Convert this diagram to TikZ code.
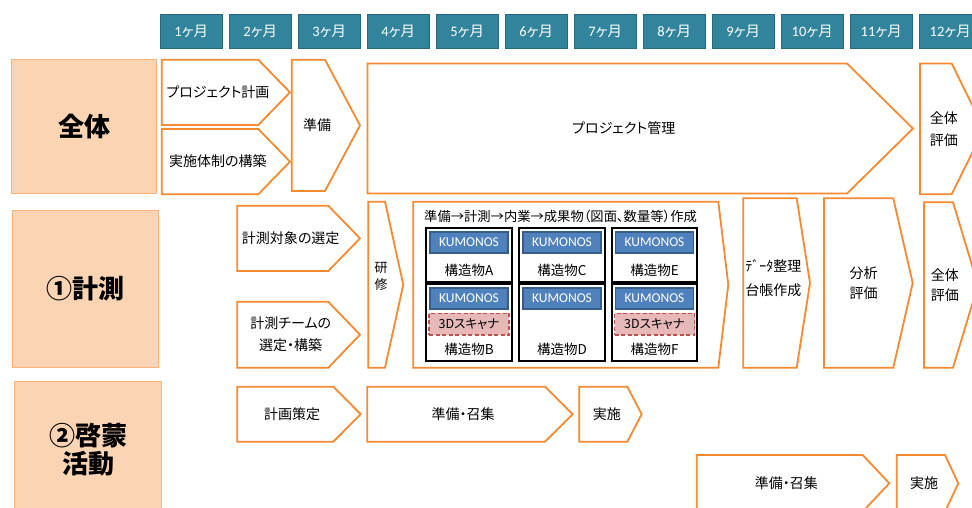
\documentclass[tikz,border=0pt]{standalone}
\usepackage{fontspec}
\setmainfont{Noto Sans CJK JP}[RawFeature=+palt]
\newfontfamily\latin{Carlito}
\usepackage{tikz}

\definecolor{plan}{HTML}{F58A32}
\definecolor{peach}{HTML}{FBD4B4}
\definecolor{peachline}{HTML}{F9B47E}
\definecolor{monthfill}{HTML}{31849B}
\definecolor{monthline}{HTML}{266A7D}
\definecolor{kumofill}{HTML}{4F81BD}
\definecolor{kumoline}{HTML}{385D8A}
\definecolor{scanfill}{HTML}{E6B9B8}
\definecolor{scanline}{HTML}{C0504D}

\tikzset{
  plate/.style={draw=plan, line width=1.8pt, line join=miter, fill=white},
  lbl/.style={font=\fontsize{14}{21}\selectfont, align=center, inner sep=0pt},
  month/.style={fill=monthfill, draw=monthline, line width=0.8pt, text=white,
    minimum width=62.5pt, minimum height=34pt, inner sep=0pt,
    font=\fontsize{14.5}{16}\selectfont},
  cat/.style={fill=peach, draw=peachline, line width=1pt, align=center,
    font=\fontsize{26}{28}\selectfont\bfseries},
  cell/.style={draw=black, line width=1.8pt, fill=white, inner sep=0pt},
  kumo/.style={fill=kumofill, draw=kumoline, line width=1.4pt, text=white,
    minimum width=78pt, minimum height=21pt, inner sep=0pt,
    font=\latin\fontsize{13.5}{15}\selectfont},
  scan/.style={fill=scanfill, draw=scanline, dash pattern=on 4pt off 2.5pt, line width=1.5pt,
    minimum width=80pt, minimum height=21.5pt, inner sep=0pt,
    font=\fontsize{12.5}{14}\selectfont},
  struct/.style={inner sep=0pt, font=\fontsize{13.5}{15}\selectfont}
}

% [node options]{name}{left}{top}{body end}{tip}{bottom}{text}
\newcommand{\homeplate}[8][]{%
  \draw[plate] (#3,#4) -- (#5,#4) -- (#6,{(#4+#7)/2}) -- (#5,#7) -- (#3,#7) -- cycle;
  \node[lbl,#1] (#2) at ({(#3+(#5+#6)/2)/2},{(#4+#7)/2}) {#8};}

\begin{document}
\begin{tikzpicture}[x=1pt,y=-1pt]
\useasboundingbox (0,0) rectangle (972,507);
\fill[white] (0,0) rectangle (972,507);
\clip (0,0) rectangle (972,507);

% months
\foreach \m in {1,...,12}
  \node[month] (month\m) at ({191.25+69*(\m-1)},31) {{\latin\m}ヶ月};

% categories
\node[cat, minimum width=145pt, minimum height=134pt] (whole) at (84.2,126.3) {全体};
\node[cat, minimum width=145.6pt, minimum height=157.7pt] (measure) at (85.5,288.9) {①計測};
\node[cat, minimum width=146.7pt, minimum height=135.3pt] (outreach) at (88.3,449.3) {②啓蒙\\活動};

% row 1
\homeplate{plan}{161.7}{59.7}{258.3}{290}{125}{プロジェクト計画}
\homeplate{system}{161.7}{129}{258.3}{290}{194.3}{実施体制の構築}
\homeplate{prep}{291.7}{59.7}{325}{360}{191}{準備}
\homeplate{manage}{367.5}{63.5}{847}{913}{193.5}{プロジェクト管理}
\homeplate[font=\fontsize{14}{21.6}\selectfont]{evalA}{920}{63.5}{951.7}{984}{194.3}{全体\\評価}

% row 2
\homeplate{target}{237.3}{205.7}{328.3}{360}{271}{計測対象の選定}
\homeplate[font=\fontsize{14}{22}\selectfont]{team}{237.3}{301.7}{328.3}{360}{367.7}{計測チームの\\選定・構築}
\homeplate[yshift=8pt, font=\fontsize{13}{16.7}\selectfont]{training}{368.3}{201.7}{385}{403.3}{367.7}{研\\修}
\draw[plate] (413.3,201.7) -- (718.3,201.7) -- (728.3,284.7) -- (718.3,367.7) -- (413.3,367.7) -- cycle;
\node[lbl, font=\fontsize{13.3}{15}\selectfont, anchor=west] (flow) at (424,216.7)
  {準備→計測→内業→成果物（図面、数量等）作成};
\foreach \cx/\up/\down in {469/A/B, 562/C/D, 654.5/E/F}{
  \node[cell, minimum width=85.5pt, minimum height=54pt] (cell\up) at (\cx,255.3) {};
  \node[cell, minimum width=85.5pt, minimum height=76.7pt] (cell\down) at (\cx,322.7) {};
  \node[kumo] (kumo\up) at (\cx,242.5) {KUMONOS};
  \node[struct] (name\up) at (\cx,270) {構造物\up};
  \node[kumo] (kumo\down) at (\cx,298.5) {KUMONOS};
  \node[struct] (name\down) at (\cx,349) {構造物\down};
}
\foreach \cx/\down in {469/B, 654.5/F}
  \node[scan] (scan\down) at (\cx,324.2) {3Dスキャナ};
\homeplate[yshift=5pt, font=\fontsize{14}{23.3}\selectfont]{data}{743.3}{198.3}{796.7}{810}{367.7}{ﾃﾞｰﾀ整理\\台帳作成}
\homeplate[font=\fontsize{14}{20}\selectfont]{analysis}{824}{198.3}{893.3}{912.7}{367.7}{分析\\評価}
\homeplate[font=\fontsize{14}{20}\selectfont]{evalB}{924}{202.3}{953}{978}{367.7}{全体\\評価}

% row 3
\homeplate{policy}{237.3}{386.7}{333.3}{360.7}{441.7}{計画策定}
\homeplate{gatherA}{367.3}{386.7}{545}{572.7}{441.7}{準備・召集}
\homeplate{doA}{579.3}{386.7}{627.3}{641.7}{441.7}{実施}
\homeplate{gatherB}{696.7}{455}{862.7}{889.3}{511.6}{準備・召集}
\homeplate{doB}{896.7}{455}{945}{958.3}{511.6}{実施}
\end{tikzpicture}
\end{document}
